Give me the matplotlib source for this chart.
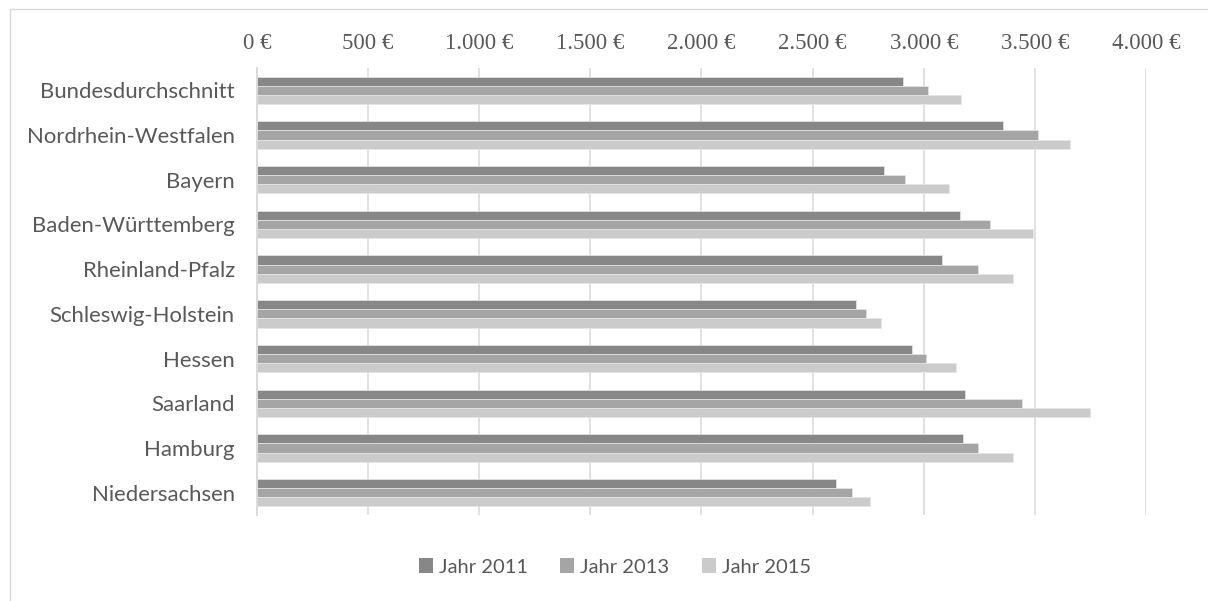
import matplotlib
matplotlib.use("Agg")
import matplotlib.pyplot as plt
from matplotlib.patches import Rectangle
import numpy as np

categories = ["Bundesdurchschnitt", "Nordrhein-Westfalen", "Bayern", "Baden-Württemberg",
              "Rheinland-Pfalz", "Schleswig-Holstein", "Hessen", "Saarland", "Hamburg",
              "Niedersachsen"]
jahr_2011 = [2908, 3358, 2819, 3165, 3083, 2697, 2945, 3187, 3175, 2604]
jahr_2013 = [3018, 3513, 2916, 3297, 3244, 2740, 3011, 3440, 3244, 2677]
jahr_2015 = [3167, 3656, 3114, 3492, 3403, 2808, 3144, 3746, 3400, 2756]
series_names = ["Jahr 2011", "Jahr 2013", "Jahr 2015"]
tick_values = [0, 500, 1000, 1500, 2000, 2500, 3000, 3500, 4000]
tick_labels = ["0 €", "500 €", "1.000 €", "1.500 €", "2.000 €", "2.500 €", "3.000 €", "3.500 €", "4.000 €"]

colors = ["#878787", "#a5a5a5", "#cbcbcb"]
text_col = "#595959"
grid_col = "#d9d9d9"

W, H = 1208, 601
fig = plt.figure(figsize=(W / 100, H / 100), dpi=100)
fig.patch.set_facecolor("white")

# outer chart frame (left/top visible)
fig.patches.append(Rectangle((9.5 / W, -0.05), 1.2, 1 - 9.5 / H + 0.05, transform=fig.transFigure,
                             fill=False, edgecolor=grid_col, linewidth=1.0))

ax_l, ax_r, ax_t, ax_b = 257, 1146, 68, 515
ax = fig.add_axes([ax_l / W, 1 - ax_b / H, (ax_r - ax_l) / W, (ax_b - ax_t) / H])

n = len(categories)
y = np.arange(n)
bh = 0.205
data = [jahr_2011, jahr_2013, jahr_2015]
for i, (vals, c, name) in enumerate(zip(data, colors, series_names)):
    ax.barh(y + (i - 1) * bh, vals, height=bh, color=c, edgecolor="#e6e6e6",
            linewidth=0.5, label=name, zorder=3)

ax.set_xlim(0, 4000)
ax.set_ylim(n - 0.5, -0.5)
ax.set_xticks(tick_values)
ax.set_xticklabels(tick_labels, family="Liberation Serif", fontsize=16.5, color=text_col)
ax.xaxis.tick_top()
ax.tick_params(axis="x", length=0, pad=10)
ax.set_yticks(y)
ax.set_yticklabels(categories, family="Lato", fontsize=15.9, color=text_col)
ax.tick_params(axis="y", length=0, pad=16)
ax.grid(axis="x", color=grid_col, linewidth=1.1, zorder=0)
for s in ["top", "right", "bottom"]:
    ax.spines[s].set_visible(False)
ax.spines["left"].set_color(grid_col)
ax.spines["left"].set_linewidth(1.3)
ax.spines["left"].set_zorder(4)

leg = fig.legend(loc="center", bbox_to_anchor=(615 / W, 1 - 567 / H), ncol=3, frameon=False,
                 prop={"family": "Lato", "size": 14.5}, handlelength=0.7, handleheight=0.7,
                 handletextpad=0.3, columnspacing=1.6)
for t in leg.get_texts():
    t.set_color(text_col)
for h in leg.legend_handles:
    h.set_edgecolor("none")

fig.savefig("out.png", dpi=100, facecolor="white")
